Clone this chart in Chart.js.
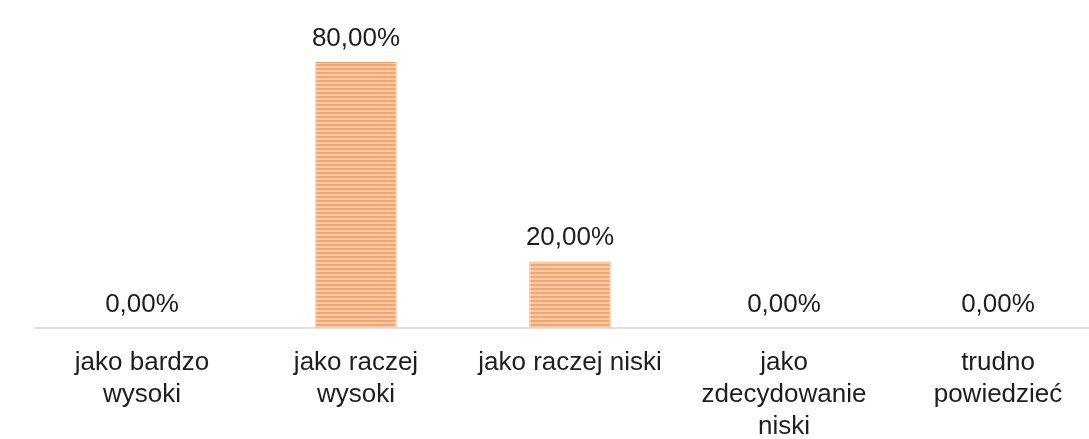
<!DOCTYPE html>
<html>
<head>
<meta charset="utf-8">
<script src="https://cdn.jsdelivr.net/npm/chart.js@4.4.1/dist/chart.umd.min.js"></script>
<style>
  html,body{margin:0;padding:0;background:#fff;overflow:hidden;}
  #wrap{position:relative;width:1089px;height:439px;overflow:hidden;}
  #box{position:absolute;left:0;top:0;width:1110px;height:439px;}
</style>
</head>
<body>
<div id="wrap"><div id="box"><canvas id="chart"></canvas></div></div>
<script>
const categories = [
  ["jako bardzo", "wysoki"],
  ["jako raczej", "wysoki"],
  "jako raczej niski",
  ["jako", "zdecydowanie", "niski"],
  ["trudno", "powiedzieć"]
];
const values = [0, 80, 20, 0, 0];

const FONT = "'Liberation Sans', Arial, sans-serif";

// striped orange fill like the scanned bars
const makeStripes = () => {
  const c = document.createElement("canvas");
  c.width = 8; c.height = 4;
  const g = c.getContext("2d");
  g.fillStyle = "#f5a56c"; g.fillRect(0, 0, 8, 2);
  g.fillStyle = "#fbcca8"; g.fillRect(0, 2, 8, 2);
  return g.createPattern(c, "repeat");
};

const fmt = v => v.toFixed(2).replace(".", ",") + "%";

const valueLabels = {
  id: "valueLabels",
  afterDatasetsDraw(chart) {
    const ctx = chart.ctx;
    const meta = chart.getDatasetMeta(0);
    ctx.save();
    ctx.font = "26px " + FONT;
    ctx.fillStyle = "#1e1e1e";
    ctx.textAlign = "center";
    ctx.textBaseline = "alphabetic";
    meta.data.forEach((bar, i) => {
      ctx.fillText(fmt(values[i]), bar.x, bar.y - 16);
    });
    ctx.restore();
  }
};

new Chart(document.getElementById("chart"), {
  type: "bar",
  data: {
    labels: categories,
    datasets: [{
      data: values,
      backgroundColor: makeStripes(),
      borderColor: "#f2a064",
      borderWidth: 1,
      barPercentage: 0.38,
      categoryPercentage: 1
    }]
  },
  options: {
    responsive: true,
    maintainAspectRatio: false,
    animation: false,
    layout: { padding: { left: 35, right: 5, top: 2, bottom: 0 } },
    plugins: { legend: { display: false }, tooltip: { enabled: false } },
    scales: {
      x: {
        grid: { display: false, drawTicks: false },
        border: { display: true, color: "#e0e0e0", width: 2 },
        afterFit(scale) { scale.height = 111; },
        ticks: {
          color: "#1e1e1e",
          padding: 19,
          maxRotation: 0,
          autoSkip: false,
          font: { family: FONT, size: 26, lineHeight: 1.23 }
        }
      },
      y: {
        display: false,
        min: 0,
        max: 98
      }
    }
  },
  plugins: [valueLabels]
});
</script>
</body>
</html>
